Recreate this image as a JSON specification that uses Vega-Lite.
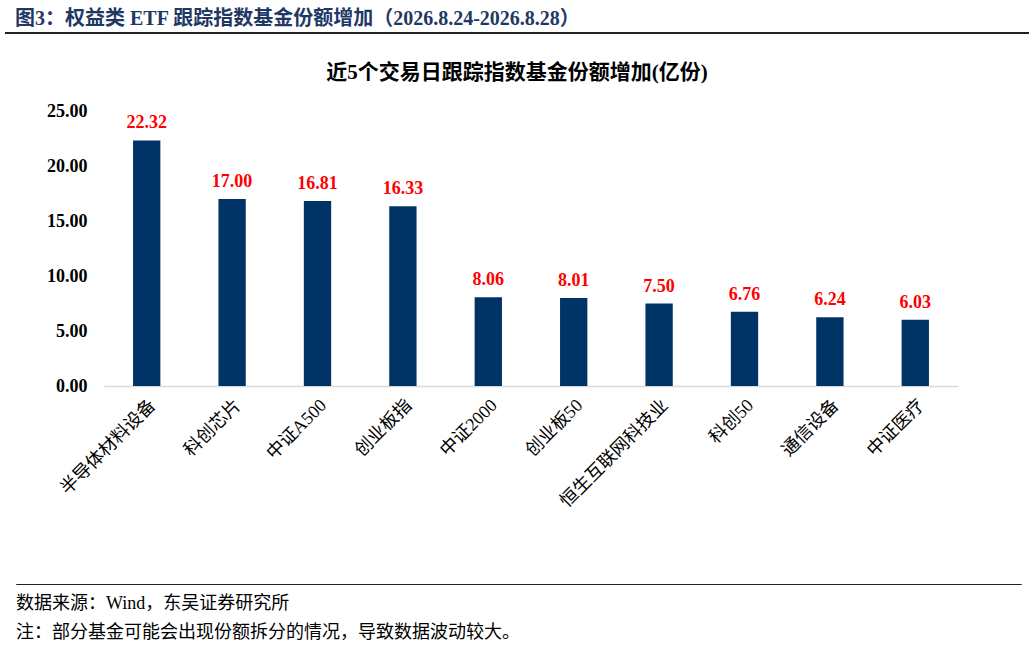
{
  "$schema": "https://vega.github.io/schema/vega-lite/v6.json",
  "padding": {"left": 5, "top": 8, "right": 0, "bottom": 0},
  "background": "white",
  "spacing": 0,
  "bounds": "flush",
  "config": {
    "font": "Liberation Serif, Noto Sans CJK SC",
    "view": {"stroke": null}
  },
  "vconcat": [
    {
      "width": 1022,
      "height": 0.01,
      "view": {"stroke": "#222222", "strokeWidth": 2},
      "title": {
        "text": "图3：权益类 ETF 跟踪指数基金份额增加（2026.8.24-2026.8.28）",
        "anchor": "start",
        "dx": 9,
        "offset": 4,
        "fontSize": 20,
        "fontWeight": "bold",
        "color": "#1f3864"
      },
      "data": {"values": []},
      "mark": "point",
      "encoding": {}
    },
    {
      "width": 0.01,
      "height": 77,
      "data": {"values": []},
      "mark": "point",
      "encoding": {}
    },
    {
      "spacing": 0,
      "bounds": "full",
      "hconcat": [
        {
          "width": 0.01,
          "height": 0.01,
          "data": {"values": []},
          "mark": "point",
          "encoding": {}
        },
        {
          "width": 854,
          "height": 275,
          "title": {
            "text": "近5个交易日跟踪指数基金份额增加(亿份)",
            "anchor": "middle",
            "frame": "group",
            "dx": -14,
            "offset": 19,
            "fontSize": 21,
            "fontWeight": "bold",
            "color": "#000000"
          },
          "data": {
            "values": [
              {"index": "半导体材料设备", "value": 22.32},
              {"index": "科创芯片", "value": 17.00},
              {"index": "中证A500", "value": 16.81},
              {"index": "创业板指", "value": 16.33},
              {"index": "中证2000", "value": 8.06},
              {"index": "创业板50", "value": 8.01},
              {"index": "恒生互联网科技业", "value": 7.50},
              {"index": "科创50", "value": 6.76},
              {"index": "通信设备", "value": 6.24},
              {"index": "中证医疗", "value": 6.03}
            ]
          },
          "encoding": {
            "x": {
              "field": "index",
              "type": "nominal",
              "sort": null,
              "scale": {"paddingInner": 0.68, "paddingOuter": 0.34},
              "axis": {
                "title": null,
                "labelAngle": -45,
                "labelFontSize": 18,
                "labelColor": "#000000",
                "labelPadding": 10,
                "ticks": false,
                "domainColor": "#d9d9d9",
                "domainWidth": 1.5,
                "labelLimit": 300
              }
            },
            "y": {
              "field": "value",
              "type": "quantitative",
              "scale": {"domain": [0, 25]},
              "axis": {
                "title": null,
                "values": [0, 5, 10, 15, 20, 25],
                "format": ".2f",
                "grid": false,
                "domain": false,
                "ticks": false,
                "labelFontSize": 18,
                "labelFontWeight": "bold",
                "labelColor": "#000000",
                "labelPadding": 17,
                "minExtent": 97
              }
            }
          },
          "layer": [
            {"mark": {"type": "bar", "color": "#003366"}},
            {
              "mark": {
                "type": "text",
                "color": "#ff0000",
                "fontSize": 18,
                "fontWeight": "bold",
                "baseline": "bottom",
                "dy": -8
              },
              "encoding": {
                "text": {"field": "value", "type": "quantitative", "format": ".2f"}
              }
            }
          ]
        }
      ]
    },
    {
      "width": 0.01,
      "height": 473,
      "data": {"values": []},
      "mark": "point",
      "encoding": {}
    },
    {
      "spacing": 8,
      "hconcat": [
        {
          "width": 0.01,
          "height": 0.01,
          "data": {"values": []},
          "mark": "point",
          "encoding": {}
        },
        {
          "width": 1005,
          "height": 0.01,
          "view": {"stroke": "#222222", "strokeWidth": 1},
          "title": {
            "text": ["数据来源：Wind，东吴证券研究所", "注：部分基金可能会出现份额拆分的情况，导致数据波动较大。"],
            "orient": "bottom",
            "anchor": "start",
            "dx": 0,
            "offset": 11,
            "fontSize": 18,
            "fontWeight": "normal",
            "lineHeight": 29,
            "color": "#000000"
          },
          "data": {"values": []},
          "mark": "point",
          "encoding": {}
        }
      ]
    }
  ]
}
